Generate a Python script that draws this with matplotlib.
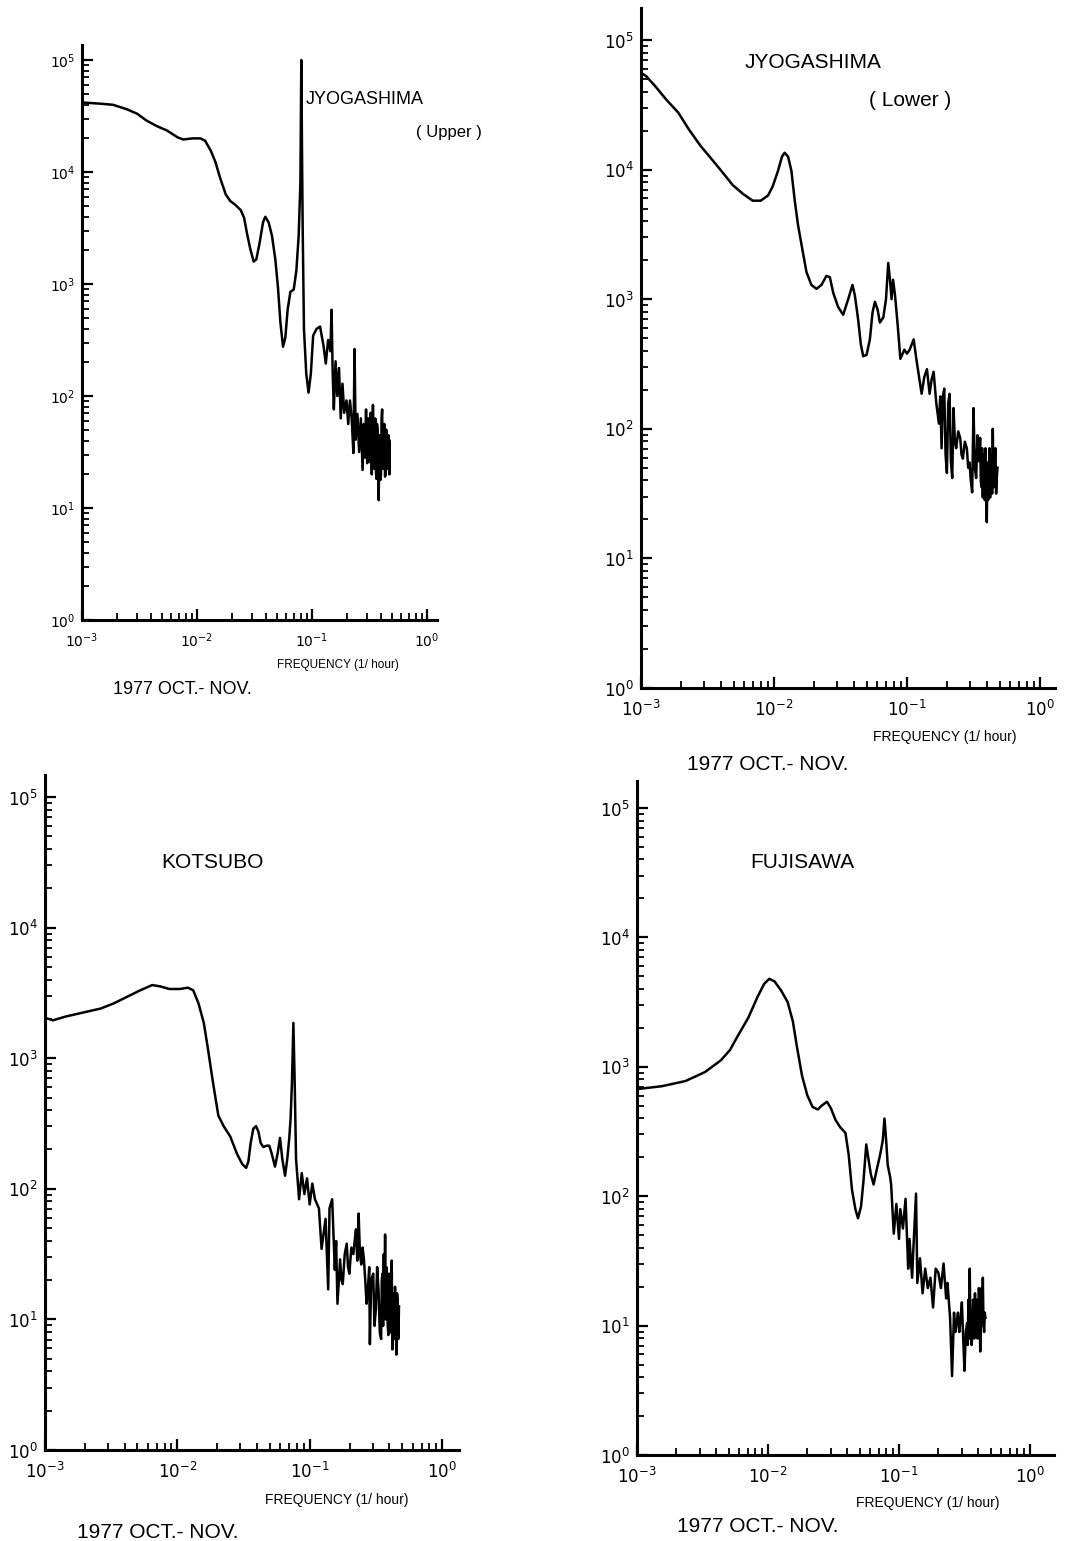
import numpy as np
import matplotlib
matplotlib.use("Agg")
import matplotlib.pyplot as plt
from matplotlib.ticker import LogLocator, FixedLocator, NullFormatter

plt.rcParams['font.family'] = ['Liberation Sans', 'DejaVu Sans']
plt.rcParams['mathtext.fontset'] = 'dejavusans'

# spectra as log10(frequency [1/hour]) and log10(power)
tl_logf = [-2.99, -2.84, -2.73, -2.61, -2.52, -2.44, -2.35, -2.26, -2.17, -2.12, -2.04, -1.97,
           -1.93, -1.88, -1.84, -1.80, -1.75, -1.71, -1.67, -1.62, -1.59, -1.565, -1.536, -1.507,
           -1.484, -1.455, -1.426, -1.406, -1.377, -1.348, -1.319, -1.296, -1.275, -1.252, -1.232,
           -1.212, -1.188, -1.159, -1.136, -1.116, -1.101, -1.093, -1.087, -1.081, -1.07, -1.05,
           -1.03, -1.01, -0.99, -0.96, -0.93, -0.90,
           -0.88, -0.86, -0.84, -0.83, -0.82, -0.81, -0.795, -0.78, -0.765, -0.75, -0.735, -0.72,
           -0.70, -0.685, -0.67, -0.655, -0.64, -0.63, -0.62, -0.605, -0.59, -0.575, -0.56, -0.55,
           -0.54, -0.53, -0.52, -0.51, -0.50, -0.49, -0.48, -0.47, -0.46]
tl_logp = [4.62, 4.61, 4.60, 4.56, 4.52, 4.46, 4.41, 4.37, 4.31, 4.29, 4.30, 4.30,
           4.28, 4.19, 4.09, 3.95, 3.80, 3.74, 3.71, 3.66, 3.59, 3.45, 3.31, 3.20,
           3.22, 3.37, 3.55, 3.60, 3.55, 3.43, 3.22, 2.97, 2.66, 2.44, 2.52,
           2.77, 2.93, 2.95, 3.12, 3.43, 3.90, 5.00, 4.20, 3.50, 2.60, 2.20,
           2.03, 2.20, 2.54, 2.60, 2.62, 2.45,
           2.29, 2.50, 2.40, 2.77, 2.20, 1.88, 2.31, 2.00, 2.25, 1.80, 2.11, 1.85,
           1.96, 1.75, 1.96, 1.80, 1.49, 2.42, 1.61, 1.84, 1.50, 1.80, 1.34, 1.75,
           1.45, 1.88, 1.40, 1.80, 1.41, 1.85, 1.30, 1.92, 1.35]
tl_tail_logf = [-0.45, -0.445, -0.44, -0.435, -0.43, -0.425, -0.42, -0.415, -0.41, -0.405,
                -0.40, -0.395, -0.39, -0.385, -0.38, -0.375, -0.37, -0.365, -0.36, -0.355,
                -0.35, -0.345, -0.34, -0.335, -0.33, -0.327, -0.325]
tl_tail_logp = [1.80, 1.35, 1.26, 1.75, 1.70, 1.30, 1.07, 1.65, 1.60, 1.25,
                1.30, 1.80, 1.88, 1.35, 1.40, 1.72, 1.75, 1.28, 1.30, 1.70,
                1.69, 1.40, 1.35, 1.65, 1.55, 1.30, 1.60]

tr_logf = [-2.99, -2.96, -2.89, -2.81, -2.72, -2.64, -2.55, -2.46, -2.38, -2.31, -2.23, -2.16,
           -2.10, -2.045, -2.01, -1.97, -1.94, -1.92, -1.894, -1.869, -1.844, -1.819, -1.786,
           -1.756, -1.719, -1.681, -1.643, -1.606, -1.58, -1.555, -1.518, -1.48, -1.442, -1.41,
           -1.392, -1.367, -1.347, -1.329, -1.304, -1.279, -1.259, -1.241, -1.221, -1.204,
           -1.178, -1.158, -1.141, -1.128, -1.116, -1.105, -1.09, -1.07, -1.05, -1.02, -1.00,
           -0.98, -0.95, -0.93, -0.89, -0.87, -0.85, -0.83, -0.815, -0.80, -0.78, -0.76, -0.75,
           -0.74, -0.73, -0.72, -0.71, -0.70, -0.69, -0.68, -0.67, -0.66, -0.65, -0.64, -0.63,
           -0.615, -0.60, -0.59, -0.58, -0.565, -0.55, -0.54, -0.53, -0.52, -0.51, -0.50, -0.49,
           -0.48, -0.47, -0.46]
tr_logp = [4.74, 4.72, 4.64, 4.54, 4.44, 4.31, 4.18, 4.07, 3.97, 3.88, 3.81, 3.76,
           3.76, 3.80, 3.87, 3.99, 4.10, 4.13, 4.10, 3.99, 3.76, 3.57, 3.38,
           3.21, 3.11, 3.08, 3.11, 3.18, 3.17, 3.05, 2.94, 2.88, 3.00, 3.11,
           3.03, 2.84, 2.65, 2.56, 2.57, 2.69, 2.90, 2.98, 2.92, 2.82,
           2.86, 3.00, 3.28, 3.15, 3.00, 3.15, 3.03, 2.80, 2.54, 2.61, 2.58,
           2.61, 2.69, 2.54, 2.27, 2.40, 2.46, 2.27, 2.38, 2.44, 2.20, 2.04, 2.25,
           1.85, 2.25, 2.31, 1.80, 1.66, 2.20, 2.27, 1.75, 1.62, 2.16, 1.90, 1.85,
           1.98, 1.93, 1.80, 1.77, 1.90, 1.85, 1.70, 1.74, 1.60, 1.51, 2.16, 1.70,
           1.62, 1.95, 1.75]
tr_tail_logf = [-0.45, -0.445, -0.44, -0.435, -0.43, -0.425, -0.42, -0.415, -0.41, -0.405,
                -0.40, -0.395, -0.39, -0.385, -0.38, -0.375, -0.37, -0.365, -0.36, -0.355,
                -0.35, -0.345, -0.34, -0.335, -0.33, -0.325, -0.32]
tr_tail_logp = [1.93, 1.60, 1.55, 1.85, 1.47, 1.75, 1.80, 1.45, 1.85, 1.50,
                1.28, 1.74, 1.45, 1.55, 1.85, 1.47, 1.70, 1.80, 1.50, 2.00,
                1.60, 1.55, 1.75, 1.85, 1.50, 1.62, 1.70]

bl_logf = [-3.00, -2.94, -2.84, -2.71, -2.58, -2.48, -2.38, -2.28, -2.19, -2.13, -2.06, -1.98,
           -1.92, -1.88, -1.84, -1.80, -1.77, -1.73, -1.69, -1.65, -1.60, -1.55, -1.51, -1.48,
           -1.463, -1.446, -1.426, -1.406, -1.388, -1.37, -1.35, -1.325, -1.305, -1.287, -1.262,
           -1.242, -1.224, -1.207, -1.186, -1.169, -1.154, -1.144, -1.134, -1.123, -1.113, -1.103,
           -1.08, -1.06, -1.04,
           -1.02, -1.00, -0.98, -0.96, -0.93, -0.91, -0.88, -0.86, -0.85, -0.83, -0.81, -0.80,
           -0.79, -0.77, -0.76, -0.75, -0.735, -0.72, -0.71, -0.70, -0.685, -0.67, -0.66, -0.65,
           -0.64, -0.63, -0.62, -0.61, -0.60, -0.59, -0.58, -0.57, -0.56, -0.55, -0.545, -0.535,
           -0.52, -0.51, -0.50, -0.49, -0.48, -0.47]
bl_logp = [3.31, 3.29, 3.32, 3.35, 3.38, 3.42, 3.47, 3.52, 3.56, 3.55, 3.53, 3.53,
           3.54, 3.52, 3.42, 3.27, 3.08, 2.81, 2.56, 2.48, 2.40, 2.27, 2.19, 2.16,
           2.21, 2.35, 2.46, 2.48, 2.44, 2.35, 2.32, 2.33, 2.33, 2.27, 2.17,
           2.27, 2.39, 2.23, 2.10, 2.23, 2.39, 2.54, 2.81, 3.27, 2.81, 2.23,
           1.92, 2.12, 1.96,
           2.08, 1.88, 2.04, 1.92, 1.85, 1.54, 1.77, 1.23, 1.85, 1.92, 1.38, 1.60,
           1.12, 1.46, 1.30, 1.27, 1.50, 1.58, 1.40, 1.35, 1.55, 1.50, 1.60, 1.69,
           1.45, 1.81, 1.50, 1.42, 1.55, 1.46, 1.30, 1.12, 1.23, 1.40, 0.81, 1.30,
           1.35, 0.95, 1.08, 1.40, 1.23, 0.90]
bl_tail_logf = [-0.46, -0.455, -0.45, -0.445, -0.44, -0.435, -0.43, -0.425, -0.42, -0.415,
                -0.41, -0.405, -0.40, -0.395, -0.39, -0.385, -0.38, -0.375, -0.37, -0.365,
                -0.36, -0.355, -0.35, -0.345, -0.34, -0.335, -0.33, -0.325]
bl_tail_logp = [0.85, 1.30, 1.35, 0.95, 1.50, 1.10, 1.65, 1.00, 1.40, 1.15,
                0.95, 0.88, 1.35, 1.30, 0.90, 1.23, 1.45, 0.77, 1.20, 1.08,
                0.85, 1.25, 1.05, 0.73, 1.20, 1.15, 0.85, 1.10]

br_logf = [-3.00, -2.98, -2.81, -2.63, -2.48, -2.36, -2.29, -2.23, -2.15, -2.08, -2.03, -1.99,
           -1.95, -1.90, -1.85, -1.81, -1.78, -1.74, -1.70, -1.66, -1.62, -1.59, -1.55, -1.52,
           -1.485, -1.447, -1.409, -1.384, -1.359, -1.333, -1.313, -1.29, -1.27, -1.25, -1.232,
           -1.215, -1.194, -1.169, -1.144, -1.124, -1.111, -1.098, -1.086, -1.068,
           -1.06, -1.04, -1.02, -1.00,
           -0.99, -0.97, -0.95, -0.93, -0.92, -0.90, -0.89, -0.87, -0.86, -0.84, -0.82, -0.80,
           -0.78, -0.76, -0.74, -0.72, -0.70, -0.68, -0.66, -0.64, -0.63, -0.61, -0.595, -0.58,
           -0.57, -0.56, -0.55, -0.54, -0.53, -0.52, -0.51, -0.50, -0.49]
br_logp = [2.83, 2.83, 2.85, 2.89, 2.96, 3.05, 3.13, 3.24, 3.38, 3.54, 3.64, 3.68,
           3.66, 3.59, 3.50, 3.35, 3.16, 2.93, 2.78, 2.69, 2.67, 2.70, 2.73, 2.68,
           2.59, 2.53, 2.49, 2.32, 2.05, 1.90, 1.83, 1.92, 2.13, 2.40, 2.28,
           2.17, 2.09, 2.21, 2.32, 2.43, 2.60, 2.43, 2.24, 2.15,
           2.09, 1.71, 1.94, 1.67,
           1.90, 1.75, 1.98, 1.44, 1.67, 1.37, 1.60, 2.02, 1.33, 1.52, 1.25, 1.44,
           1.29, 1.37, 1.14, 1.44, 1.41, 1.29, 1.48, 1.21, 1.33, 1.06, 0.61, 1.10,
           0.95, 1.02, 1.10, 0.95, 1.05, 1.18, 0.90, 0.65, 0.95]
br_tail_logf = [-0.48, -0.475, -0.47, -0.465, -0.46, -0.455, -0.45, -0.445, -0.44, -0.435,
                -0.43, -0.425, -0.42, -0.415, -0.41, -0.405, -0.40, -0.395, -0.39, -0.385,
                -0.38, -0.375, -0.37, -0.365, -0.36, -0.355, -0.35, -0.345, -0.34]
br_tail_logp = [1.02, 0.85, 1.20, 0.90, 1.44, 1.00, 1.05, 0.85, 0.98, 1.20,
                1.15, 0.90, 1.25, 0.95, 1.06, 1.20, 0.90, 1.10, 1.29, 1.15,
                0.80, 1.10, 1.29, 1.00, 1.37, 1.00, 0.95, 1.10, 1.06]

W, H = 1066, 1541


def panel_rect(x3, x0, y0, y5, xext, yext):
    # pixel positions of 1e-3 / 1e0 on x and 1e0 / 1e5 on y -> figure fraction rect
    dx = (x0 - x3) / 3.0
    dy = (y0 - y5) / 5.0
    left = x3 / W
    width = (3.0 + xext) * dx / W
    bottom = 1 - y0 / H
    height = (5.0 + yext) * dy / H
    return [left, bottom, width, height], xext, yext


panels = [
    dict(logf=tl_logf + tl_tail_logf, logp=tl_logp + tl_tail_logp,
         geom=(82, 427, 620, 60, 0.09, 0.13), fs=10,
         labels=[("JYOGASHIMA", 365, 100, 13), ("( Upper )", 449, 132, 12)],
         freq=(338, 665, 8.5), date=(182, 690, 13)),
    dict(logf=tr_logf + tr_tail_logf, logp=tr_logp + tr_tail_logp,
         geom=(641, 1040, 688, 40, 0.11, 0.25), fs=12,
         labels=[("JYOGASHIMA", 813, 62, 15), ("( Lower )", 910, 100, 15)],
         freq=(945, 737, 10), date=(768, 765, 15)),
    dict(logf=bl_logf + bl_tail_logf, logp=bl_logp + bl_tail_logp,
         geom=(45, 442, 1450, 797, 0.13, 0.17), fs=12,
         labels=[("KOTSUBO", 212, 862, 15)],
         freq=(337, 1500, 10), date=(158, 1532, 15)),
    dict(logf=br_logf + br_tail_logf, logp=br_logp + br_tail_logp,
         geom=(637, 1030, 1455, 808, 0.18, 0.21), fs=12,
         labels=[("FUJISAWA", 802, 862, 15)],
         freq=(928, 1503, 10), date=(758, 1527, 15)),
]

fig = plt.figure(figsize=(W / 100, H / 100), dpi=100)
fig.patch.set_facecolor('white')

for p in panels:
    rect, xext, yext = panel_rect(*p['geom'])
    ax = fig.add_axes(rect)
    f = 10 ** np.array(p['logf'])
    pw = 10 ** np.array(p['logp'])
    ax.plot(f, pw, color='black', lw=1.8, solid_joinstyle='round')
    ax.set_xscale('log')
    ax.set_yscale('log')
    ax.set_xlim(1e-3, 10 ** xext)
    ax.set_ylim(1, 10 ** (5 + yext))
    for s in ('top', 'right'):
        ax.spines[s].set_visible(False)
    for s in ('left', 'bottom'):
        ax.spines[s].set_linewidth(2.2)
    ax.xaxis.set_major_locator(FixedLocator([1e-3, 1e-2, 1e-1, 1e0]))
    ax.yaxis.set_major_locator(FixedLocator([1e0, 1e1, 1e2, 1e3, 1e4, 1e5]))
    ax.xaxis.set_minor_locator(LogLocator(base=10, subs=np.arange(2, 10), numticks=20))
    ax.yaxis.set_minor_locator(LogLocator(base=10, subs=np.arange(2, 10), numticks=20))
    ax.xaxis.set_minor_formatter(NullFormatter())
    ax.yaxis.set_minor_formatter(NullFormatter())
    ax.set_xticklabels([r'$10^{-3}$', r'$10^{-2}$', r'$10^{-1}$', r'$10^{0}$'])
    ax.set_yticklabels([r'$10^{0}$', r'$10^{1}$', r'$10^{2}$', r'$10^{3}$', r'$10^{4}$', r'$10^{5}$'])
    ax.tick_params(which='major', direction='in', length=8, width=1.6, labelsize=p['fs'])
    ax.tick_params(axis='x', which='major', pad=8)
    ax.tick_params(axis='y', which='major', pad=5)
    ax.tick_params(which='minor', direction='in', length=5, width=1.3)
    ax.set_facecolor('none')

    for txt, x, y, size in p['labels']:
        fig.text(x / W, 1 - y / H, txt, ha='center', va='center', fontsize=size)
    fx, fy, fsz = p['freq']
    fig.text(fx / W, 1 - fy / H, 'FREQUENCY (1/ hour)', ha='center', va='center', fontsize=fsz)
    dx_, dy_, dsz = p['date']
    fig.text(dx_ / W, 1 - dy_ / H, '1977 OCT.- NOV.', ha='center', va='center', fontsize=dsz)

fig.savefig('out.png', dpi=100, facecolor='white')
